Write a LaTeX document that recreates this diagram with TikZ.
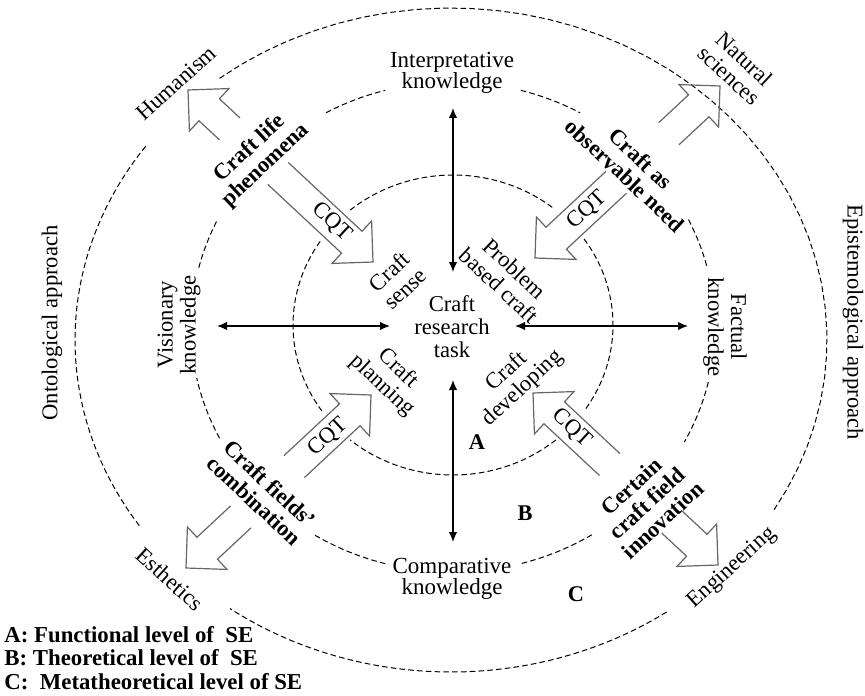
\documentclass[tikz,border=0pt]{standalone}
\usepackage{fontspec}
\setmainfont{Liberation Serif}
\usetikzlibrary{arrows.meta}
\newcommand{\bkarrow}[3]{\draw[blk,shift={(#1)},rotate=#2] (-#3,15)--(-29,15)--(-29,29)--(0,0)--(-29,-29)--(-29,-15)--(-#3,-15);}
\newcommand{\ellarc}[7]{\draw[dsh] plot[domain=#6:#7,samples=40] ({#1+#3*cos(\x)},{#2+#4*sin(\x)});}
\begin{document}
\begin{tikzpicture}[x=0.5pt,y=-0.5pt,
  lbl/.style={font=\fontsize{11.3}{11.5}\selectfont,align=center,inner sep=0pt},
  tlbl/.style={font=\fontsize{11.5}{10.8}\selectfont,align=center,inner sep=0pt},
  blbl/.style={font=\fontsize{11.2}{11.5}\selectfont\bfseries,align=center,inner sep=0pt},
  dsh/.style={draw=black,line width=0.5pt,dash pattern=on 2.8pt off 1.6pt},
  blk/.style={draw=black!60,line width=0.6pt,line join=miter},
  dbl/.style={line width=0.6pt,{Latex[length=5pt,width=4.2pt]}-{Latex[length=5pt,width=4.2pt]}}]
\useasboundingbox (0,0) rectangle (865,695);
% ellipses
\foreach \a/\b in {232/391,55/126,146/216}{\ellarc{451}{340}{376}{332}{}{\a}{\b}}
\foreach \a/\b in {-75/-61,-26/-14,13/28,58/75,105/122,153/168,194/206,241/255}{\ellarc{453}{327}{262}{245}{}{\a}{\b}}
\foreach \a/\b in {-35/34,50/130,145/215,230/309}{\ellarc{453}{325}{160}{150}{}{\a}{\b}}
% labels
\node[lbl] (task) at (452,327) {Craft\\research\\task};
\node[tlbl] (interp) at (452,73) {Interpretative\\knowledge};
\node[tlbl] (comp) at (452,579) {Comparative\\knowledge};
\node[lbl,rotate=90] (vision) at (179,325) {Visionary\\knowledge};
\node[lbl,rotate=-90] (fact) at (725,327) {Factual\\knowledge};
\node[lbl,rotate=90] (onto) at (52,323) {Ontological approach};
\node[lbl,rotate=-90] (epist) at (853,322) {Epistemological approach};
\node[lbl,rotate=42] (human) at (176,83) {Humanism};
\node[lbl,rotate=-43] (natsci) at (737,67) {Natural\\sciences};
\node[lbl,rotate=-42] (esth) at (170,579) {Esthetics};
\node[lbl,rotate=42] (engin) at (732,568) {Engineering};
\node[blbl] (la) at (477,442) {A};
\node[blbl] (lb) at (525,513) {B};
\node[blbl] (lc) at (576,594) {C};
\node[blbl,rotate=43] (phen) at (258,157) {Craft life\\phenomena};
\node[blbl,rotate=-43] (obs) at (633,167) {Craft as\\observable need};
\node[blbl,rotate=-43] (comb) at (262,492) {Craft fields'\\combination};
\node[blbl,rotate=43] (innov) at (647,503) {Certain\\craft field\\innovation};
\node[lbl,rotate=-43] (cqa) at (332,222) {CQT};
\node[lbl,rotate=43] (cqb) at (587,210) {CQT};
\node[lbl,rotate=43] (cqc) at (328,437) {CQT};
\node[lbl,rotate=-43] (cqd) at (572,428) {CQT};
\node[lbl,rotate=43] (sense) at (397,280) {Craft\\sense};
\node[lbl,rotate=-43] (probl) at (507,277) {Problem\\based craft};
\node[lbl,rotate=-43] (plan) at (390,377) {Craft\\planning};
\node[lbl,rotate=43] (devel) at (515,380) {Craft\\developing};
\node[font=\fontsize{11.4}{11.6}\selectfont\bfseries,align=left,anchor=west,inner sep=0pt] (legend) at (4,658)
  {A: Functional level of~ SE\\B: Theoretical level of~ SE\\C:~ Metatheoretical level of SE};
% double arrows
\coordinate (vt1) at (453,108); \coordinate (vt2) at (453,272);
\coordinate (vb1) at (453,380); \coordinate (vb2) at (453,542);
\coordinate (hl1) at (217,326); \coordinate (hl2) at (390,326);
\coordinate (hr1) at (515,326); \coordinate (hr2) at (688,326);
\draw[dbl] (vt1) -- (vt2);
\draw[dbl] (vb1) -- (vb2);
\draw[dbl] (hl1) -- (hl2);
\draw[dbl] (hr1) -- (hr2);
% block arrows
\coordinate (tulin) at (373,262); \coordinate (tulout) at (188,90);
\coordinate (turin) at (535,258); \coordinate (turout) at (720,86);
\coordinate (tllin) at (371,395); \coordinate (tllout) at (186,568);
\coordinate (tlrin) at (533,393); \coordinate (tlrout) at (718,565);
\bkarrow{tulin}{-43}{130}
\bkarrow{tulout}{137}{57}
\bkarrow{turin}{-137}{111}
\bkarrow{turout}{43}{70}
\bkarrow{tllin}{43}{105}
\bkarrow{tllout}{-137}{75}
\bkarrow{tlrin}{137}{105}
\bkarrow{tlrout}{-43}{63}
\end{tikzpicture}
\end{document}
